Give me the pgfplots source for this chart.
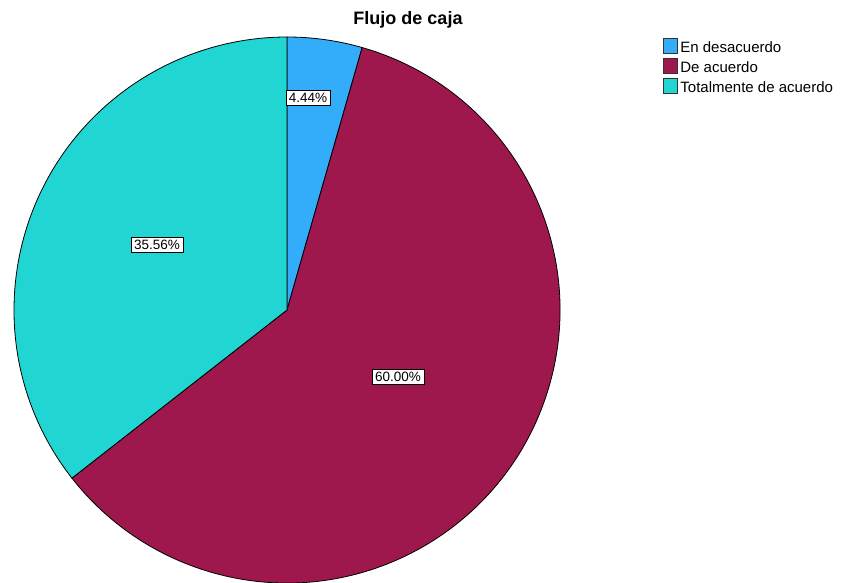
\documentclass[border=0pt]{standalone}
\usepackage{pgfplots}
\usepackage{pgfplotstable}
\pgfplotsset{compat=1.18}
\usepackage{fontspec}
\setmainfont{Liberation Sans}
\definecolor{cBlue}{RGB}{51,173,250}
\definecolor{cMaroon}{RGB}{158,24,78}
\definecolor{cCyan}{RGB}{33,214,210}

\pgfplotstableread{
value
4.44
60.00
35.56
}\piedata

\begin{document}
\begin{tikzpicture}
\pgfplotstablegetelem{0}{value}\of\piedata \let\va\pgfplotsretval
\pgfplotstablegetelem{1}{value}\of\piedata \let\vb\pgfplotsretval
\pgfplotstablegetelem{2}{value}\of\piedata \let\vc\pgfplotsretval
\pgfmathsetmacro\aA{90-3.6*\va}
\pgfmathsetmacro\aB{\aA-3.6*\vb}
\pgfmathsetmacro\aC{\aB-3.6*\vc}
\useasboundingbox (0,0) rectangle (843pt,583pt);
\begin{axis}[
  at={(0,0)}, anchor=south west,
  width=843pt, height=583pt, scale only axis,
  xmin=0, xmax=843, ymin=0, ymax=583,
  hide axis, clip=false,
  /pgf/number format/assume math mode=true,
  legend cell align=left,
  legend style={at={(axis cs:662.5,544.7)}, anchor=north west, draw=none, fill=none,
    font=\fontsize{15}{17}\selectfont, row sep=2.3pt, inner sep=0pt,
    nodes={inner sep=0pt, text height=13.5pt, text depth=3pt}},
  legend image code/.code={\filldraw[#1, draw=black!80, line width=0.7pt] (0pt,-6.25pt) rectangle (14.5pt,8.75pt);},
]
\addlegendimage{fill=cBlue}
\addlegendentry{\hspace{2.5pt}En desacuerdo}
\addlegendimage{fill=cMaroon}
\addlegendentry{\hspace{2.5pt}De acuerdo}
\addlegendimage{fill=cCyan}
\addlegendentry{\hspace{2.5pt}Totalmente de acuerdo}

\filldraw[fill=cBlue, draw=black, line width=0.8pt] (axis cs:287,273) -- ++(90:273pt) arc[start angle=90, end angle=\aA, radius=273pt] -- cycle;
\filldraw[fill=cMaroon, draw=black, line width=0.8pt] (axis cs:287,273) -- ++(\aA:273pt) arc[start angle=\aA, end angle=\aB, radius=273pt] -- cycle;
\filldraw[fill=cCyan, draw=black, line width=0.8pt] (axis cs:287,273) -- ++(\aB:273pt) arc[start angle=\aB, end angle=\aC, radius=273pt] -- cycle;

\tikzset{pielabel/.style={draw=black, fill=white, line width=0.7pt, inner xsep=3pt, inner ysep=2.5pt, font=\fontsize{13.5}{15}\selectfont}}
\node[pielabel] at (axis cs:308,485) {\pgfmathprintnumber[fixed, fixed zerofill, precision=2, assume math mode=true]{\va}\%};
\node[pielabel] at (axis cs:398,206) {\pgfmathprintnumber[fixed, fixed zerofill, precision=2, assume math mode=true]{\vb}\%};
\node[pielabel] at (axis cs:157,338) {\pgfmathprintnumber[fixed, fixed zerofill, precision=2, assume math mode=true]{\vc}\%};

\node[font=\fontsize{18}{20}\selectfont\bfseries] at (axis cs:408,563) {Flujo de caja};
\end{axis}
\end{tikzpicture}
\end{document}
